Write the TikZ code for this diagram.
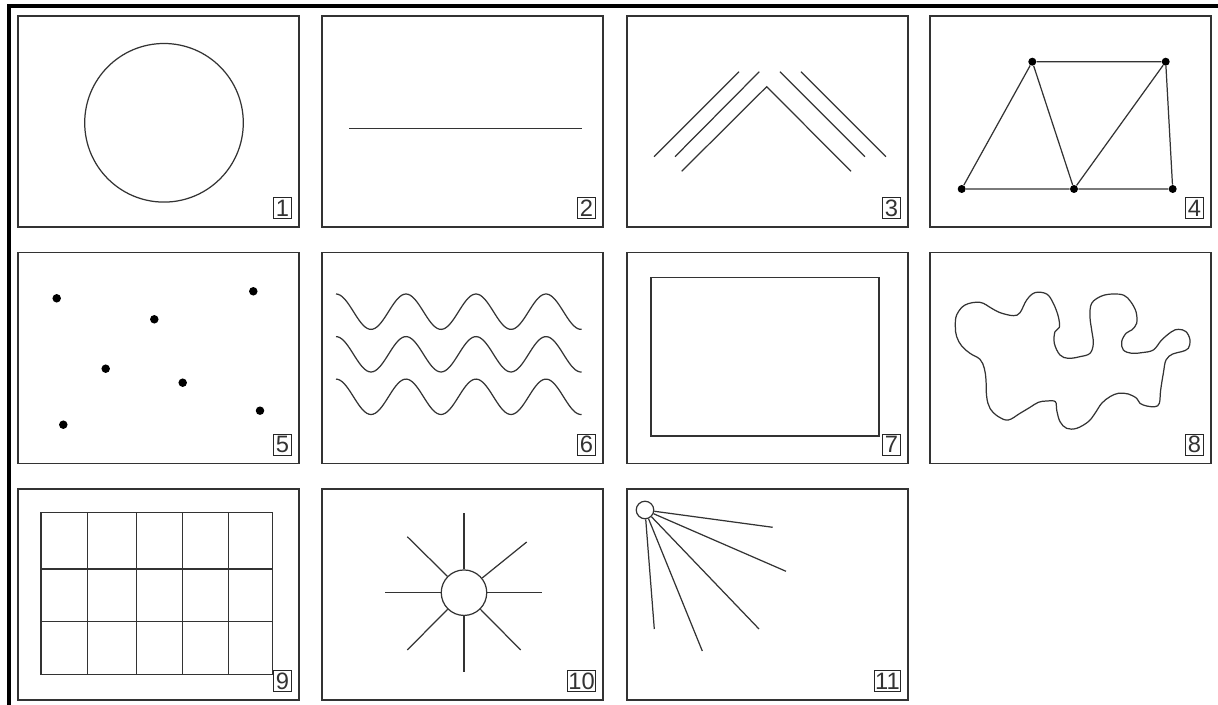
\documentclass[tikz,border=0pt]{standalone}
\usepackage{fontspec}
\setmainfont{Liberation Sans}
\newcommand\pnl[3]{%
  \draw[frame] (#1,#2) rectangle ++(281,211);
  \node[lbl, anchor=south east] (l#3) at (#1+274,#2+203) {#3};}
\begin{document}
\begin{tikzpicture}[x=0.02cm,y=-0.02cm,
  frame/.style={draw=black!80, line width=0.7pt},
  shp/.style={draw=black!80, line width=0.7pt},
  lbl/.style={draw=black!85, line width=0.5pt, inner xsep=0.4pt, inner ysep=0pt,
    minimum width=0.36cm, minimum height=0.42cm,
    font=\fontsize{13.5pt}{14pt}\selectfont, text=black!80},
  dotA/.style={circle, fill=black, inner sep=0pt, minimum size=0.16cm},
  dotB/.style={circle, fill=black, inner sep=0pt, minimum size=0.17cm}]
\useasboundingbox (0,0) rectangle (1218,705);
% outer frame (top and left only)
\draw[line width=1.8pt, line cap=rect] (9,710) -- (9,6) -- (1225,6);
% panels
\pnl{18}{16}{1}
\pnl{322}{16}{2}
\pnl{627}{16}{3}
\pnl{930}{16}{4}
\pnl{18}{252.5}{5}
\pnl{322}{252.5}{6}
\pnl{627}{252.5}{7}
\pnl{930}{252.5}{8}
\pnl{18}{489}{9}
\pnl{322}{489}{10}
\pnl{627}{489}{11}
% 1 circle
\draw[shp] (164,122.8) circle[radius=79.3];
% 2 line
\draw[shp] (349.3,128.7) -- (581.7,128.7);
% 3 chevrons
\draw[shp] (681.7,171.3) -- (766.7,86.7) -- (851,171.3);
\draw[shp] (675,156.7) -- (759.3,71.7);
\draw[shp] (654,156.7) -- (739,71.7);
\draw[shp] (780,71.7) -- (865,156.7);
\draw[shp] (801,71.7) -- (886,156.7);
% 4 graph
\node[dotA] (pA) at (1032.3,61.7) {};
\node[dotA] (pB) at (1165.7,61.7) {};
\node[dotA] (pC) at (961.7,189) {};
\node[dotA] (pD) at (1074,189) {};
\node[dotA] (pE) at (1172.7,189) {};
\draw[shp] (pA) -- (pB) (pA) -- (pC) (pA) -- (pD) (pB) -- (pD) (pB) -- (pE) (pC) -- (pD) (pD) -- (pE);
% 5 dots
\node[dotB] (q1) at (56.7,298.3) {};
\node[dotB] (q2) at (154.3,319.3) {};
\node[dotB] (q3) at (253.3,291.3) {};
\node[dotB] (q4) at (105.7,368.7) {};
\node[dotB] (q5) at (182.7,382.7) {};
\node[dotB] (q6) at (260,410.7) {};
\node[dotB] (q7) at (63.3,424.7) {};
% 6 waves
\foreach \m in {311.7,354.3,396.8}{
  \draw[shp] plot[domain=0:245.7, samples=120, smooth] ({336+\x},{\m-17.7*cos(5.142857*\x)});
}
% 7 inner rectangle
\draw[shp] (651,277.7) rectangle (879,436);
% 8 blob
\begin{scope}[shift={(920,240)}, scale=0.33333]
\draw[shp] plot[smooth cycle, tension=0.6] coordinates {
(110,225) (135,195) (180,187) (215,205) (240,218) (280,227) (300,218) (320,180)
(345,158) (380,162) (400,190) (415,230) (418,262) (405,275) (403,310) (420,345)
(445,355) (480,350) (510,340) (520,310) (515,270) (510,230) (515,190) (545,168)
(580,162) (612,166) (632,185) (648,215) (650,250) (635,270) (618,280) (605,305)
(610,330) (635,340) (665,338) (700,330) (725,300) (755,275) (775,268) (798,275)
(810,300) (805,325) (785,335) (758,342) (738,360) (730,400) (722,450) (718,490)
(705,500) (680,498) (660,490) (650,475) (625,462) (595,460) (570,470) (545,490)
(525,520) (505,545) (470,565) (440,565) (420,545) (410,510) (406,485) (380,483)
(355,487) (330,502) (300,520) (265,540) (235,530) (210,505) (200,470) (198,420)
(193,385) (180,358) (150,340) (125,318) (110,290) (106,260)};
\end{scope}
% 9 grid
\draw[shp] (41,512.3) rectangle (272.7,674.3);
\foreach \gx in {87.7,136.7,182.3,228.7}{\draw[shp] (\gx,512.3) -- (\gx,674.3);}
\foreach \gy in {569,621.7}{\draw[shp] (41,\gy) -- (272.7,\gy);}
% 10 sun
\node[circle, draw=black!80, line width=0.7pt, inner sep=0pt, minimum size=0.91cm] (sun) at (464,592.7) {};
\coordinate (s1) at (464,513.3);
\coordinate (s2) at (464,672.3);
\coordinate (s3) at (385.3,592.7);
\coordinate (s4) at (542.3,592.7);
\coordinate (s5) at (407.3,536.7);
\coordinate (s6) at (526.7,542);
\coordinate (s7) at (407.3,650);
\coordinate (s8) at (520.7,650);
\foreach \s in {s1,s2,s3,s4,s5,s6,s7,s8}{\draw[shp] (sun) -- (\s);}
% 11 lamp
\node[circle, draw=black!80, line width=0.7pt, inner sep=0pt, minimum size=0.35cm] (lamp) at (645,510) {};
\coordinate (r1) at (772.7,527.3);
\coordinate (r2) at (786,571.3);
\coordinate (r3) at (759,629);
\coordinate (r4) at (702.3,651);
\coordinate (r5) at (654.3,629);
\foreach \r in {r1,r2,r3,r4,r5}{\draw[shp] (lamp) -- (\r);}
\end{tikzpicture}
\end{document}
